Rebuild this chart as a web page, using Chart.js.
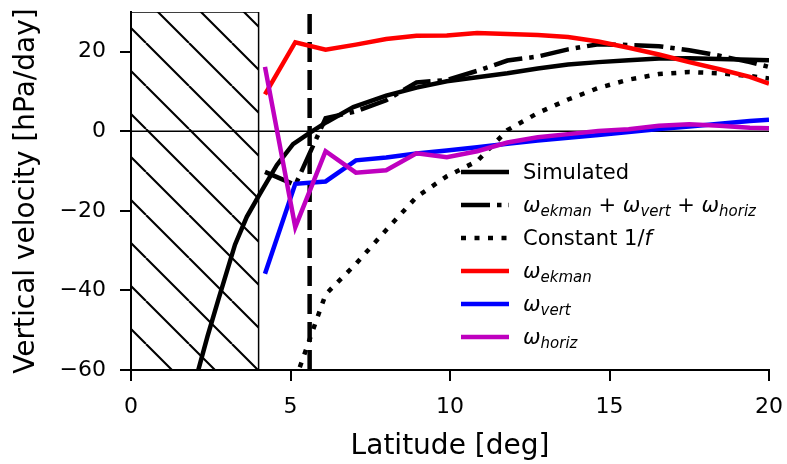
<!DOCTYPE html>
<html>
<head>
<meta charset="utf-8">
<script src="https://cdn.jsdelivr.net/npm/chart.js@4.4.0/dist/chart.umd.min.js"></script>
<style>
  body { margin: 0; background: #fff; }
  #wrap { position: relative; width: 787px; height: 464px; }
  #legend { position: absolute; left: 461px; top: 155px; font-family: "DejaVu Sans"; font-size: 21px; color: #000; }
  #legend .row { height: 33px; display: flex; align-items: center; white-space: nowrap; }
  #legend svg { width: 48px; height: 10px; margin-right: 14px; flex: none; }
  #legend sub { font-size: 15px; font-style: italic; vertical-align: -4px; line-height: 0; }
</style>
</head>
<body>
<div id="wrap">
  <canvas id="lineChart" width="787" height="464"></canvas>
  <div id="legend"></div>
</div>
<script>
// latitude grid of the budget terms
var lat = [4.2, 5.15, 6.1, 7.05, 8.0, 8.95, 9.9, 10.85, 11.8, 12.75, 13.7, 14.65, 15.6, 16.55, 17.5, 18.45, 19.4, 20];
var wEkman = [9.3, 22.4, 20.5, 21.8, 23.2, 24.0, 24.1, 24.7, 24.5, 24.2, 23.7, 22.6, 21.0, 19.3, 17.4, 15.6, 13.7, 12.0];
var wVert = [-35.8, -13.2, -12.6, -7.3, -6.6, -5.6, -4.8, -4.0, -3.1, -2.3, -1.6, -0.9, -0.2, 0.6, 1.2, 1.9, 2.6, 2.9];
var wHoriz = [16.2, -24.1, -5.0, -10.4, -9.8, -5.5, -6.5, -5.0, -2.8, -1.5, -0.7, 0.1, 0.5, 1.4, 1.8, 1.4, 0.9, 0.8];
var wSum = [-10.2, -13.5, 3.3, 5.0, 7.8, 12.3, 12.9, 15.2, 17.8, 18.8, 20.6, 21.9, 21.7, 21.4, 20.4, 19.0, 17.4, 16.2];

// simulated
var simLat = [1.9, 2.11, 2.4, 2.75, 3.26, 3.63, 4.04, 4.57, 5.08, 5.6, 6.13, 6.97, 8.0, 8.95, 9.9, 10.85, 11.8, 12.75, 13.7, 14.65, 15.6, 16.55, 17.5, 18.45, 19.4, 20];
var simulated = [-68, -60, -51.5, -42, -28.5, -21.5, -15.7, -8.5, -3.2, -0.4, 2.3, 6.1, 9.0, 11.0, 12.6, 13.6, 14.6, 15.8, 16.8, 17.4, 17.9, 18.3, 18.4, 18.2, 18.0, 17.9];

// constant 1/f
var fLat = [5.15, 6.1, 7.05, 8.0, 8.95, 9.9, 10.85, 11.8, 12.75, 13.7, 14.65, 15.6, 16.55, 17.5, 18.45, 19.4, 20];
var constF = [-62.5, -41.0, -33.3, -24.8, -16.5, -11.3, -7.5, 0.3, 4.6, 8.0, 10.9, 13.0, 14.4, 14.9, 14.6, 13.9, 13.3];

var cutLat = 5.6;       // dashed vertical line
var maskLat = [0, 4];   // hatched region
var xTicks = [0, 5, 10, 15, 20];
var yMin = -60, yMax = 30;

var legendText = [
  'Simulated',
  '<i>ω</i><sub>ekman</sub> + <i>ω</i><sub>vert</sub> + <i>ω</i><sub>horiz</sub>',
  'Constant 1/<i>f</i>',
  '<i>ω</i><sub>ekman</sub>',
  '<i>ω</i><sub>vert</sub>',
  '<i>ω</i><sub>horiz</sub>'
];

function pts(xs, ys) {
  return xs.map(function(x, i) { return {x: x, y: ys[i]}; });
}

function hatchPattern() {
  var s = 43;
  var c = document.createElement('canvas');
  c.width = s; c.height = s;
  var g = c.getContext('2d');
  g.strokeStyle = '#000';
  g.lineWidth = 2.1;
  g.beginPath();
  [-1, 0, 1].forEach(function(k) { g.moveTo(k * s, 0); g.lineTo(k * s + s, s); });
  g.stroke();
  var p = g.createPattern(c, 'repeat');
  p.setTransform(new DOMMatrix().translate(17, 0));
  return p;
}

function line(label, data, color, dash, order, width) {
  return {
    label: label, data: data, borderColor: color, backgroundColor: color,
    borderWidth: width || 4.5, borderDash: dash || [], pointRadius: 0,
    tension: 0, fill: false, order: order, inLegend: true
  };
}

var datasets = [
  line('Simulated', pts(simLat, simulated), '#000', [], 6),
  line('sum', pts(lat, wSum), '#000', [29, 7, 4.5, 7], 5),
  line('Constant 1/f', pts(fLat, constF), '#000', [5, 8.5], 4),
  line('ekman', pts(lat, wEkman), '#ff0000', [], 3),
  line('vert', pts(lat, wVert), '#0000ff', [], 2),
  line('horiz', pts(lat, wHoriz), '#bf00bf', [], 1),
  { label: 'cut', data: [{x: cutLat, y: yMin}, {x: cutLat, y: yMax}], borderColor: '#000',
    borderWidth: 4.5, borderDash: [20, 8], pointRadius: 0, order: 7 },
  { label: 'zero', data: [{x: 0, y: 0}, {x: 20, y: 0}], borderColor: '#000',
    borderWidth: 1.5, pointRadius: 0, order: 8 },
  { label: 'mask', data: [{x: maskLat[0], y: yMax}, {x: maskLat[1], y: yMax}, {x: maskLat[1], y: yMin}],
    borderColor: '#000', borderWidth: 1.5, pointRadius: 0, backgroundColor: hatchPattern(),
    fill: 'start', order: 9 }
];

var htmlLegend = {
  id: 'htmlLegend',
  afterUpdate: function(chart) {
    var box = document.getElementById('legend');
    box.innerHTML = '';
    chart.data.datasets.filter(function(d) { return d.inLegend; }).forEach(function(d, i) {
      var row = document.createElement('div');
      row.className = 'row';
      var dash = d.borderDash.length ? ' stroke-dasharray="' + d.borderDash.join(' ') + '"' : '';
      row.innerHTML = '<svg viewBox="0 0 48 10"><line x1="0" y1="5" x2="48" y2="5" stroke="' + d.borderColor +
        '" stroke-width="' + d.borderWidth + '"' + dash + '/></svg><span>' + legendText[i] + '</span>';
      box.appendChild(row);
    });
  }
};

// keep tick labels from shrinking the plot area
function noPad(s) {
  s.paddingTop = 0; s.paddingBottom = 0; s.paddingLeft = 0; s.paddingRight = 0;
}

var tickFont = { family: 'DejaVu Sans', size: 22, lineHeight: 1.0 };
var titleFont = { family: 'DejaVu Sans', size: 28 };

var ctx = document.getElementById('lineChart').getContext('2d');
var myChart = new Chart(ctx, {
  type: 'line',
  data: { datasets: datasets },
  options: {
    responsive: false,
    animation: false,
    layout: { padding: { left: 0, right: 18, top: 12, bottom: 0 } },
    plugins: { legend: { display: false }, tooltip: { enabled: false } },
    scales: {
      x: {
        type: 'linear', min: 0, max: 20,
        afterFit: function(s) { s.height = 94; noPad(s); },
        afterBuildTicks: function(s) { s.ticks = xTicks.map(function(v) { return {value: v}; }); },
        ticks: { font: tickFont, color: '#000', padding: 15, maxRotation: 0 },
        grid: { display: true, drawOnChartArea: false, drawTicks: true, tickLength: 11, color: '#000', lineWidth: 2 },
        border: { display: true, color: '#000', width: 2 },
        title: { display: true, text: 'Latitude [deg]', font: titleFont, color: '#000', padding: { top: 0, bottom: 0 } }
      },
      y: {
        type: 'linear', min: yMin, max: yMax,
        afterFit: function(s) { s.width = 131; noPad(s); },
        ticks: { stepSize: 20, includeBounds: false, font: tickFont, color: '#000', padding: 14,
          callback: function(v) { return String(v).replace('-', '\u2212'); } },
        grid: { display: true, drawOnChartArea: false, drawTicks: true, tickLength: 11, color: '#000', lineWidth: 2 },
        border: { display: true, color: '#000', width: 2 },
        title: { display: true, text: 'Vertical velocity [hPa/day]', font: titleFont, color: '#000', padding: { top: 10, bottom: 0 } }
      }
    }
  },
  plugins: [htmlLegend]
});
</script>
</body>
</html>
